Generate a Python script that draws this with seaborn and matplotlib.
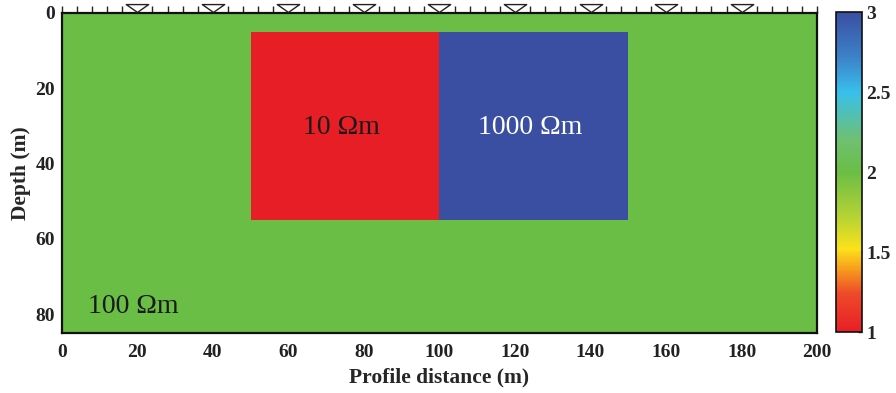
import numpy as np
import pandas as pd
import matplotlib
matplotlib.use("Agg")
import matplotlib.pyplot as plt
from matplotlib.colors import LinearSegmentedColormap
from matplotlib.path import Path
import seaborn as sns

# ---- data ----
profile_length = 200          # m
max_depth = 85                # m
background_res = 100          # Ohm m
block_x0 = [50, 100]          # m
block_x1 = [100, 150]         # m
block_z0 = [5, 5]             # m
block_z1 = [55, 55]           # m
block_res = [10, 1000]        # Ohm m
block_labels = ["10 Ωm", "1000 Ωm"]
background_label = "100 Ωm"
electrode_spacing = 4         # m
marker_positions = [20, 40, 60, 80, 100, 120, 140, 160, 180]
x_ticks = [0, 20, 40, 60, 80, 100, 120, 140, 160, 180, 200]
y_ticks = [0, 20, 40, 60, 80]
cbar_ticks = [1, 1.5, 2, 2.5, 3]
cbar_ticklabels = ["1", "1.5", "2", "2.5", "3"]

# ---- model grid (1 m cells) of log10 resistivity ----
xc = np.arange(profile_length) + 0.5
zc = np.arange(max_depth) + 0.5
grid = np.full((len(zc), len(xc)), np.log10(background_res), dtype=float)
for x0, x1, z0, z1, r in zip(block_x0, block_x1, block_z0, block_z1, block_res):
    mask = ((zc[:, None] > z0) & (zc[:, None] < z1) &
            (xc[None, :] > x0) & (xc[None, :] < x1))
    grid[mask] = np.log10(r)
df = pd.DataFrame(grid, index=zc, columns=xc)

cmap = LinearSegmentedColormap.from_list("res", [
    (0.00, "#e81e26"),
    (0.12, "#ee4a2a"),
    (0.20, "#f7a21c"),
    (0.26, "#fbe21a"),
    (0.36, "#b5d334"),
    (0.50, "#6abe45"),
    (0.60, "#6fc070"),
    (0.75, "#38c0ec"),
    (0.86, "#3c82c8"),
    (1.00, "#3a4fa2"),
])

sns.set_theme(style="white")
plt.rcParams["font.family"] = ["Liberation Serif", "DejaVu Serif"]

fig = plt.figure(figsize=(8.96, 3.93), dpi=100)
ax = fig.add_axes([0.069, 0.153, 0.843, 0.814])
cax = fig.add_axes([0.933, 0.155, 0.029, 0.814])

sns.heatmap(df, ax=ax, cbar_ax=cax, cmap=cmap, vmin=1, vmax=3,
            xticklabels=False, yticklabels=False, rasterized=True)

# axes styling
ax.set_xticks(x_ticks)
ax.set_xticklabels([str(t) for t in x_ticks], fontsize=14, fontweight="bold")
ax.set_yticks(y_ticks)
ax.set_yticklabels([str(t) for t in y_ticks], fontsize=14, fontweight="bold")
ax.tick_params(axis="x", length=0, pad=8, colors="#222222")
ax.tick_params(axis="y", length=0, pad=5, colors="#222222", rotation=0)
ax.set_xlabel("Profile distance (m)", fontsize=15.5, fontweight="bold", labelpad=5)
ax.set_ylabel("Depth (m)", fontsize=15.5, fontweight="bold", labelpad=3)
for s in ax.spines.values():
    s.set_visible(True)
    s.set_color("#111111")
    s.set_linewidth(1.6)

# electrode ticks on top
top = ax.secondary_xaxis("top")
top.set_xticks(np.arange(0, profile_length + 1, electrode_spacing))
top.set_xticklabels([])
top.tick_params(axis="x", direction="out", length=5, width=1.0, colors="#222222")
top.spines["top"].set_visible(False)

# electrode markers
tri = Path([(-1.0, 0.35), (1.0, 0.35), (0.0, -0.35), (-1.0, 0.35)],
           [Path.MOVETO, Path.LINETO, Path.LINETO, Path.CLOSEPOLY])
ax.scatter(marker_positions, [-1.35] * len(marker_positions), marker=tri,
           s=260, facecolor="white", edgecolor="#222222", linewidth=1.0,
           clip_on=False, zorder=5)

# labels
for x0, x1, z0, z1, lab, r in zip(block_x0, block_x1, block_z0, block_z1,
                                   block_labels, block_res):
    ax.text((x0 + x1) / 2 - 1, (z0 + z1) / 2 + 0.5, lab, ha="center", va="center",
            fontsize=20, color="#1a1a1a" if r < 100 else "white")
ax.text(7, 78, background_label, ha="left", va="center", fontsize=20,
        color="#1a1a1a")

# colorbar
cb = ax.collections[0].colorbar
cb.set_ticks(cbar_ticks)
cb.set_ticklabels(cbar_ticklabels)
cax.tick_params(labelsize=14, length=3, direction="in", width=1.0, pad=3)
for lab in cax.get_yticklabels():
    lab.set_fontweight("bold")
cb.outline.set_visible(True)
cb.outline.set_edgecolor("#111111")
cb.outline.set_linewidth(1.2)

fig.savefig("out.png", dpi=100)
